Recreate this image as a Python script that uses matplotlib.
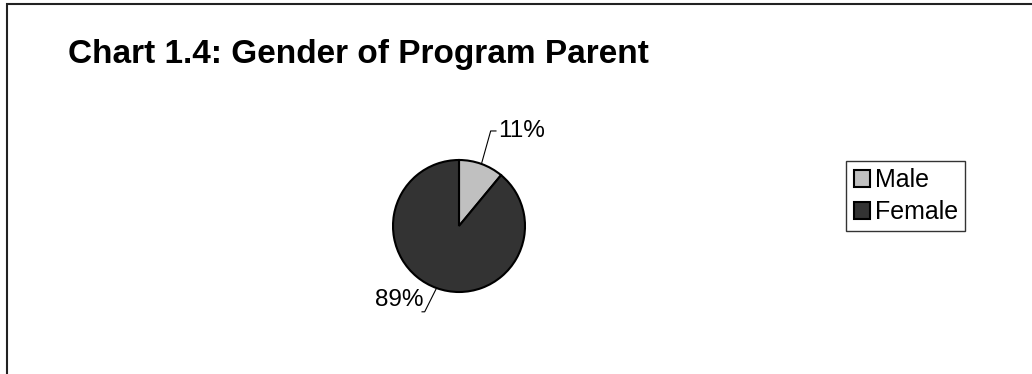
import matplotlib
matplotlib.use("Agg")
import matplotlib.pyplot as plt
from matplotlib.patches import Rectangle

plt.rcParams['font.family'] = ['Liberation Sans', 'DejaVu Sans']

# Chart data
labels = ["Male", "Female"]
shares = [11, 89]
colors = ["#C0C0C0", "#333333"]

W, H = 1032, 374
fig = plt.figure(figsize=(W / 100, H / 100), dpi=100)
fig.patch.set_facecolor("white")

# outer chart frame (runs off the right and bottom edges)
frame = Rectangle((7 / W, -0.05), 1.1, (H - 4) / H + 0.05, transform=fig.transFigure,
                  fill=False, edgecolor="#222222", linewidth=1.5, clip_on=False)
fig.patches.append(frame)

fig.text(68 / W, 1 - 54 / H, "Chart 1.4: Gender of Program Parent",
         fontsize=24, fontweight="bold", va="center", ha="left")

# pie axes: centre (459, 226) px, radius 66 px
cx, cy, r = 459, 226, 66
ax = fig.add_axes([(cx - r) / W, (H - cy - r) / H, 2 * r / W, 2 * r / H])
wedges, _ = ax.pie(shares, colors=colors, startangle=90, counterclock=False, radius=1,
                   wedgeprops=dict(edgecolor="black", linewidth=1.5))
ax.set_xlim(-1, 1)
ax.set_ylim(-1, 1)
ax.set_aspect("equal")
ax.axis("off")

# percentage labels with leader lines
ax.plot([0.34, 0.48, 0.56], [0.94, 1.44, 1.44], color="black", lw=0.8, clip_on=False)
ax.text(0.6, 1.44, f"{shares[0]}%", fontsize=17.5, ha="left", va="center")
ax.plot([-0.34, -0.52, -0.56], [-0.94, -1.30, -1.30], color="black", lw=0.8, clip_on=False)
ax.text(-0.54, -1.12, f"{shares[1]}%", fontsize=17.5, ha="right", va="center")

leg = fig.legend(wedges, labels, loc="upper left",
                 bbox_to_anchor=(846 / W, 1 - 161 / H), fontsize=18,
                 frameon=True, fancybox=False, edgecolor="black",
                 handlelength=0.65, handleheight=0.65, handletextpad=0.2,
                 labelspacing=0.3, borderpad=0.3, borderaxespad=0)
leg.get_frame().set_linewidth(1.0)
for h in leg.legend_handles:
    h.set_linewidth(1.5)

fig.savefig("out.png", dpi=100)
